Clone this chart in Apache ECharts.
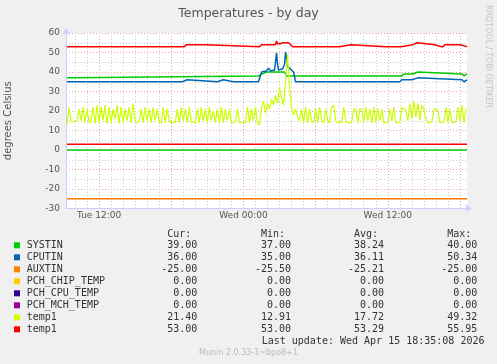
<!DOCTYPE html>
<html><head><meta charset="utf-8">
<script src="https://cdn.jsdelivr.net/npm/echarts@6/dist/echarts.min.js"></script>
<style>html,body{margin:0;padding:0;background:#f0f0f0}#c{width:497px;height:364px}</style>
</head><body><div id="c"></div>
<script>
// time in minutes from Tue 00:00
const xMin = 555, xMax = 2555;
const xTickValues = [720, 1440, 2160];
const xTickLabels = ['Tue 12:00', 'Wed 00:00', 'Wed 12:00'];

const systin = [[560,37],[590,37],[595,38],[1515,38],[1535,39],[1555,40],[1645,40],[1655,38],[2230,38],[2240,39],[2285,39],[2290,40],[2310,40],[2315,39],[2530,39],[2540,38],[2545,39],[2555,39]];
const cputin = [[560,35],[595,35],[600,36],[610,35],[770,35],[775,36],[785,35],[945,35],[950,36],[960,35],[975,35],[980,36],[990,35],[1135,35],[1140,36],[1160,36],[1165,35],[1310,35],[1315,36],[1340,36],[1345,35],[1390,35],[1395,36],[1405,35],[1515,35],[1530,40],[1555,40.5],[1565,42],[1575,40.5],[1595,41],[1600,45],[1605,50],[1610,44],[1615,41],[1635,41.5],[1640,42],[1645,44],[1650,50.34],[1655,47],[1660,43],[1670,42],[1680,41],[1690,40],[1700,35],[1965,35],[1970,36],[1980,35],[2140,35],[2145,36],[2155,35],[2220,35],[2230,36],[2280,36],[2285,37],[2310,37],[2315,36],[2530,36],[2540,35],[2545,36],[2555,36]];
const auxtin = [[560,-25],[640,-25],[645,-25.5],[655,-25],[760,-25],[765,-25.5],[775,-25],[840,-25],[845,-25.5],[850,-25],[900,-25],[905,-25.5],[915,-25],[1000,-25],[1005,-25.5],[1010,-25],[1100,-25],[1105,-25.5],[1120,-25],[1220,-25],[1225,-25.5],[1235,-25],[1360,-25],[1365,-25.5],[1375,-25],[1480,-25],[1485,-25.5],[1500,-25],[1620,-25],[1625,-25.5],[1635,-25],[1760,-25],[1765,-25.5],[1780,-25],[1880,-25],[1885,-25.5],[1895,-25],[2000,-25],[2005,-25.5],[2015,-25],[2120,-25],[2125,-25.5],[2135,-25],[2260,-25],[2265,-25.5],[2280,-25],[2400,-25],[2405,-25.5],[2415,-25],[2555,-25]];
const temp1Hi = [[560,53],[940,53],[945,54],[950,53],[955,54],[960,53],[965,54],[970,53],[1135,53],[1140,54],[1145,53],[1155,54],[1160,53],[1170,54],[1175,53],[1185,54],[1190,53],[1200,54],[1205,53],[1220,54],[1225,53],[1240,54],[1245,53],[1255,54],[1260,53],[1520,53],[1530,54],[1600,54],[1605,55.95],[1610,54.5],[1625,54.5],[1635,55],[1665,55],[1675,54],[1685,53],[1705,53],[1710,54],[1720,53],[1920,53],[1925,54],[1975,54],[1980,53],[2150,53],[2155,54],[2160,53],[2215,53],[2220,54],[2225,53],[2230,54],[2285,54],[2290,55],[2305,55],[2310,54],[2395,54],[2400,53],[2425,53],[2430,54],[2435,53],[2445,54],[2450,53],[2460,54],[2465,53],[2475,54],[2480,53],[2490,54],[2495,53],[2505,54],[2510,53],[2520,54],[2525,53],[2555,53]];
// temp1 (yellow), one sample every 10 minutes starting Tue 09:20
const temp1Start = 560, temp1Step = 10;
const temp1Lo = [13,22,14.5,14.5,14.8,15,21,15,22,14,21,14,14.5,22,13.5,23,14,22,15,23,13.5,22,14,21,16,23,13.5,22,14,21,15,22,14,24,14.5,14,14.5,21,14,22,15,21,14,22,15,21,14,14,22,14,21,15,14,14.5,14,21,14,22,15,21,14,22,14,14.5,14,21,14,22,15,21,14,22,15,20,14,21,14,22,14,21,15,21,14,14,14.5,21,14,14,14.5,14,22,14,21,15,22,13.5,13,22,25,19,24,21,26,23,28,24,32,27,23,35,49.32,32,22,18,21,17,15,21,14,22,14,21,15,14,21,14,22,15,14,21,15,14,22,23,15,14,14.5,14,22,15,14,14,14.5,21,21,14,21,21,14,22,15,21,14,22,14,21,15,21,14,14,14.5,21,15,22,14,14,14.5,22,21,20,15,24,16,25,17,24,15,23,21,16,14,14,14.5,21,21,20,14,14,14.5,22,14,21,14,14,14.5,22,15,23,14,21.4];
const zeroLine = [[560,0],[2555,0]];
const redLine = [[560,3],[2555,3]];

const legendNames = ['SYSTIN','CPUTIN','AUXTIN','PCH_CHIP_TEMP','PCH_CPU_TEMP','PCH_MCH_TEMP','temp1','temp1'];
const legendColors = ['#00CC00','#0066B3','#FF8000','#FFCC00','#330099','#990099','#CCFF00','#FF0000'];
const curVals = ['39.00','36.00','-25.00','0.00','0.00','0.00','21.40','53.00'];
const minVals = ['37.00','35.00','-25.50','0.00','0.00','0.00','12.91','53.00'];
const avgVals = ['38.24','36.11','-25.21','0.00','0.00','0.00','17.72','53.29'];
const maxVals = ['40.00','50.34','-25.00','0.00','0.00','0.00','49.32','55.95'];
const colHeaders = ['Cur:','Min:','Avg:','Max:'];
const lastUpdate = 'Last update: Wed Apr 15 18:35:08 2026';

const temp1LoData = temp1Lo.map((v, i) => [temp1Start + i * temp1Step, v]);

const hourly = [], sixHourly = [];
for (let m = 600; m <= 2520; m += 60) { if (m % 360 === 0) sixHourly.push(m); else hourly.push(m); }

const mono = '10px "DejaVu Sans Mono"';
const g = [];
const colRight = [197.3, 291, 384, 477.3];
colHeaders.forEach((h, k) => g.push({type:'text', x: colRight[k] - 30, y: 234.3, style:{text:h, font:mono, fill:'#333', align:'left', verticalAlign:'middle'}}));
legendNames.forEach((n, i) => {
  const y = 245.3 + i * 12;
  g.push({type:'rect', shape:{x:14, y:y-3, width:6, height:6}, style:{fill:legendColors[i]}});
  g.push({type:'text', x: 26.7, y, style:{text:n, font:mono, fill:'#333', align:'left', verticalAlign:'middle'}});
  [curVals, minVals, avgVals, maxVals].forEach((arr, k) => g.push({type:'text', x: colRight[k], y, style:{text:arr[i], font:mono, fill:'#333', align:'right', verticalAlign:'middle'}}));
});
g.push({type:'text', x: 261.7, y: 341.7, style:{text:lastUpdate, font:mono, fill:'#333', align:'left', verticalAlign:'middle'}});
g.push({type:'text', x: 248.5, y: 353.3, style:{text:'Munin 2.0.33-1~bpo8+1', font:'8px "DejaVu Sans"', fill:'#bbb', align:'center', verticalAlign:'middle'}});
g.push({type:'text', x: 488, y: 5, rotation: -Math.PI/2, style:{text:'RRDTOOL / TOBI OETIKER', font:'8px "DejaVu Sans"', fill:'#c4c4c4', align:'left', verticalAlign:'middle'}});

const chart = echarts.init(document.getElementById('c'), null, {renderer:'canvas'});
const axisCol = '#ccccff';
const lineSeries = (data, color, w) => ({type:'line', data, xAxisIndex:0, symbol:'none', showSymbol:false, animation:false, lineStyle:{color, width:w||1.5}, itemStyle:{color}, silent:true});
chart.setOption({
  animation:false,
  backgroundColor:'#f0f0f0',
  title:{text:'Temperatures - by day', left:'center', top:7, padding:0, textStyle:{fontFamily:'DejaVu Sans', fontSize:12.5, fontWeight:'normal', color:'#555'}},
  grid:{left:66, right:30, top:33, bottom:155.5, show:true, backgroundColor:'#fff', borderWidth:0, outerBoundsMode:'none', containLabel:false},
  xAxis:[
    {type:'value', min:xMin, max:xMax, axisLine:{show:true, onZero:false, lineStyle:{color:axisCol, width:1}, symbol:['none','arrow'], symbolSize:[6,7], symbolOffset:[0,5]}, axisTick:{show:false},
     axisLabel:{customValues:xTickValues, margin:3, fontFamily:'DejaVu Sans', fontSize:9, color:'#555', formatter:(v)=>xTickLabels[xTickValues.indexOf(v)]}, splitLine:{show:false}, z:5},
    {type:'value', min:xMin, max:xMax, axisLine:{show:false, onZero:false}, axisLabel:{show:false}, axisTick:{show:false, customValues:hourly}, splitLine:{show:true, lineStyle:{color:'#cccccc', width:1, type:[1,2]}}},
    {type:'value', min:xMin, max:xMax, axisLine:{show:false, onZero:false}, axisLabel:{show:false}, axisTick:{show:false, customValues:sixHourly}, splitLine:{show:true, lineStyle:{color:'#f0a0a0', width:1, type:[1,2]}}}
  ],
  yAxis:{type:'value', min:-30, max:60, interval:10, name:'degrees Celsius', nameLocation:'middle', nameGap:53, nameTextStyle:{fontFamily:'DejaVu Sans', fontSize:10, color:'#555'},
    axisLine:{show:true, onZero:false, lineStyle:{color:axisCol, width:1}, symbol:['none','arrow'], symbolSize:[6,7], symbolOffset:[0,5]}, axisTick:{show:false},
    axisLabel:{margin:6, fontFamily:'DejaVu Sans', fontSize:9, color:'#555'},
    splitLine:{show:true, lineStyle:{color:'#f0a0a0', width:1, type:[1,2]}},
    minorTick:{show:false, splitNumber:2}, minorSplitLine:{show:true, lineStyle:{color:'#cccccc', width:1, type:[1,2]}}},
  graphic:g,
  series:[
    lineSeries(zeroLine, '#00CC00'),
    lineSeries(redLine, '#FF0000'),
    Object.assign(lineSeries(systin, '#00CC00'), {name:'SYSTIN'}),
    Object.assign(lineSeries(cputin, '#0066B3'), {name:'CPUTIN'}),
    Object.assign(lineSeries(auxtin, '#FF8000'), {name:'AUXTIN'}),
    Object.assign(lineSeries(temp1LoData, '#CCFF00', 1.2), {name:'temp1'}),
    Object.assign(lineSeries(temp1Hi, '#FF0000'), {name:'temp1 '})
  ]
});
</script></body></html>
